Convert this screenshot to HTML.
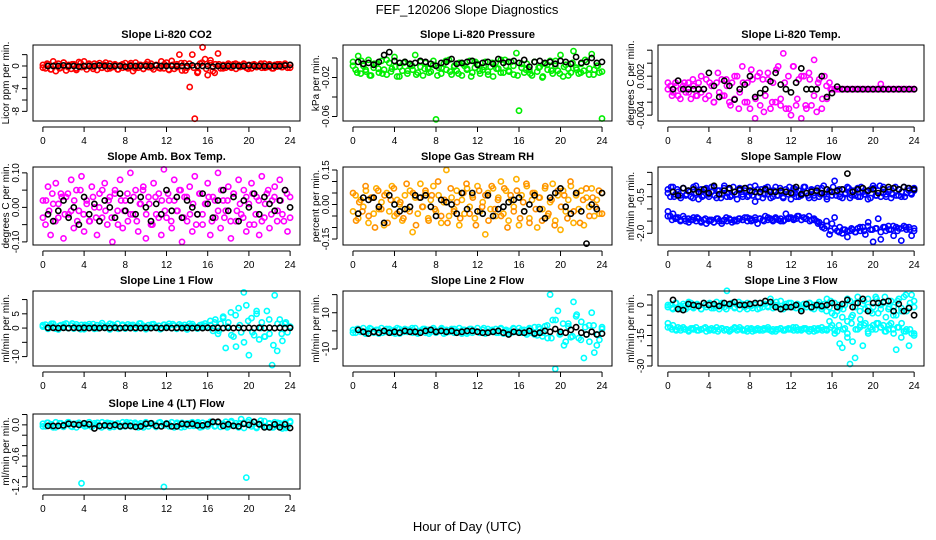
<!DOCTYPE html>
<html><head><meta charset="utf-8"><title>FEF_120206 Slope Diagnostics</title>
<style>
html,body{margin:0;padding:0;background:#fff;}
svg{display:block;font-family:"Liberation Sans",Arial,sans-serif;}
</style></head>
<body>
<svg id="chart" width="936" height="540" viewBox="0 0 936 540" xmlns="http://www.w3.org/2000/svg">
<rect x="0" y="0" width="936" height="540" fill="#fff"/>
<text x="467" y="14" font-size="13" text-anchor="middle">FEF_120206  Slope Diagnostics</text>
<text x="467" y="531" font-size="13" text-anchor="middle">Hour of Day (UTC)</text>
<g id="panels"></g>
</svg>
<script>
const xTicks = [0,4,8,12,16,20,24];

const co2Color = [0.2,-0.4,0.3,-0.6,0.8,-0.9,0.4,-0.3,0.6,-0.8,0.2,-0.5,0.3,-0.4,0.7,-0.2,0.8,-0.6,0.3,-0.1,0.4,-0.7,0.5,-0.3,0.2,-0.5,0.4,-0.2,0.3,-0.6,0.1,-0.3,0.5,-0.4,0.2,-0.9,0.6,-0.3,0.2,-0.5,0.3,-0.2,0.4,-0.6,0.2,-0.3,0.8,-0.4,0.6,-0.7,0.9,-0.5,0.3,2.0,-0.8,0.5,-0.3,-3.7,2.0,-9.3,-1.2,0.4,3.3,1.2,-1.6,0.5,-0.9,0.3,2.2,-0.4,0.2,-0.3,0.4,-0.2,0.3,-0.5,0.2,-0.1,0.4,-0.3,0.2,-0.4,0.3,-0.2,0.1,-0.3,0.4,-0.2,0.3,-0.4,0.2,-0.1,0.3,-0.2,0.4,-0.3,0.2];
const co2Color2 = [-0.3,0.4,-0.6,0.2,-0.4,0.6,-0.2,0.3,-0.7,0.5,-0.1,0.4,-0.5,0.2,-0.3,0.6,-0.4,0.1,-0.6,0.3,-0.2,0.5,-0.4,0.2,-0.5,0.7,-0.3,0.1,-0.4,0.3,-0.6,0.2,-0.2,0.5,-0.8,0.4,-0.3,-1.0,0.6,-0.5,1.0,-1.2,0.3,-0.4,0.2,-0.3,0.4,-0.2,0.3,-0.5,0.2,-0.1,0.4,-0.3,0.2,-0.4,0.3,-0.2,0.1,-0.3];
const co2Black = [0,0,0,0.1,0,0,-0.1,0,0,0,0.1,0,0,0,0,-0.1,0,0,0,0,0,0.1,0,0,0,0,0,0,0.1,0,0,0,-0.1,0,0,0,0,0,0,0.1,0,0,0,0,0,0,0.1,0.2];

const presColor = [-0.004,-0.012,0.002,-0.016,-0.008,-0.014,-0.002,-0.018,-0.010,-0.006,-0.015,-0.003,-0.012,-0.017,-0.005,-0.011,0.001,-0.019,-0.009,-0.013,-0.004,-0.016,-0.007,-0.012,0.003,-0.015,-0.009,-0.018,-0.005,-0.011,-0.014,-0.003,-0.063,-0.010,-0.016,-0.006,-0.012,-0.002,-0.017,-0.009,-0.013,-0.005,-0.018,-0.008,-0.011,-0.003,-0.015,-0.010,-0.006,-0.016,-0.012,-0.004,-0.014,-0.009,-0.019,-0.005,-0.011,-0.002,-0.015,-0.008,-0.013,-0.004,-0.017,0.005,-0.054,-0.010,-0.015,-0.006,-0.012,-0.018,-0.004,-0.014,-0.009,-0.020,-0.006,-0.012,-0.003,-0.016,-0.008,-0.013,0.003,-0.019,-0.007,-0.011,-0.015,0.007,-0.010,-0.016,-0.006,-0.013,-0.004,-0.017,0.004,-0.012,-0.008,-0.015,-0.062];
const presColor2 = [-0.008,-0.015,-0.003,-0.012,-0.018,-0.006,-0.011,-0.016,-0.002,-0.014,-0.009,-0.019,-0.005,-0.013,-0.008,-0.017,-0.004,-0.011,-0.015,-0.007,-0.018,-0.010,-0.003,-0.014,-0.008,-0.016,-0.006,-0.012,-0.019,-0.004,-0.013,-0.009,-0.017,-0.005,-0.011,-0.015,-0.002,-0.014,-0.008,-0.018,-0.006,-0.012,-0.016,-0.004,-0.010,-0.019,-0.007,-0.013,-0.003,-0.016,-0.009,-0.018,-0.005,-0.012,-0.015,-0.002,-0.011,-0.017,-0.008,-0.014];
const presBlack = [-0.004,-0.006,-0.005,-0.007,-0.004,0.003,0.006,-0.003,-0.005,-0.004,-0.006,-0.005,-0.003,-0.004,-0.006,-0.008,-0.005,-0.004,-0.001,-0.006,-0.005,-0.004,-0.003,-0.007,-0.005,-0.004,-0.006,-0.001,-0.005,-0.004,-0.003,-0.005,-0.002,-0.009,-0.004,-0.003,-0.005,-0.004,-0.006,-0.003,-0.004,-0.006,0.001,-0.005,-0.004,0.000,-0.005,-0.004];

const tempColor = [0,0.0005,-0.0005,0.001,-0.001,0,0.0005,-0.0005,0.001,-0.0015,0.0005,-0.001,0.001,-0.0005,0,0.0015,-0.001,0.0005,-0.002,0.001,-0.0005,0.0015,-0.001,0.0005,-0.002,0.001,-0.0015,0.002,-0.0005,0.0035,-0.002,0.001,-0.003,0.0015,-0.0045,0.002,-0.0025,0.0015,-0.001,0.0025,-0.003,0.001,-0.002,0.0035,-0.0015,0.0055,-0.003,0.002,-0.004,0.0035,-0.0025,0.0015,-0.0045,0.002,-0.003,0.0025,-0.0025,0.0045,-0.0035,0.0015,-0.003,0.002,-0.0015,0.001,0,0,0,0,0,0,0,0,0,0,0,0,0,0,0,0,0,0,0,0.0008,0,0,0,0,0,0,0,0,0,0,0,0,0];
const tempColor2 = [0.001,-0.001,0.0005,-0.0015,0.001,-0.0005,0.0015,-0.001,0.002,-0.0015,0.001,-0.002,0.0025,-0.001,0.0015,-0.0025,0.002,-0.003,0.001,-0.002,0.003,-0.0015,0.0025,-0.0035,0.0015,-0.002,0.003,-0.0025,0.001,-0.003,0.0035,-0.0015,0.002,-0.0025,0.0015,-0.001,0.001,-0.0015,0.0005,0,0,0,0,0,0,0,0,0,0,0,0,0,0,0,0,0,0,0,0,0];
const tempBlack = [0,0.0013,0,0,0,0,0,0.0025,0.0005,-0.0012,0.0013,0.0005,-0.0016,0,0.0007,0.002,-0.0012,-0.0006,0,0.0012,0.0025,0.0007,0,-0.0005,0.001,0.0032,0,0,0,0.002,-0.0012,-0.0006,0.0004,0,0,0,0,0,0,0,0,0,0,0,0,0,0,0];

const boxColor = [0.02,-0.05,0.06,-0.08,0.01,0.07,-0.03,0.04,-0.09,0.03,-0.02,0.08,-0.06,0.05,-0.01,0.09,-0.07,0.02,-0.04,0.06,0.00,-0.08,0.04,-0.03,0.07,-0.05,0.03,-0.10,0.05,-0.01,0.08,-0.06,0.02,-0.04,0.10,-0.02,0.05,-0.07,0.01,0.06,-0.09,0.03,-0.05,0.07,-0.02,0.04,-0.08,0.11,-0.03,0.02,-0.06,0.08,-0.01,0.05,-0.10,0.03,-0.04,0.06,-0.07,0.09,-0.02,0.04,-0.05,0.01,0.07,-0.08,0.03,-0.03,0.10,-0.06,0.02,-0.01,0.06,-0.09,0.04,-0.04,0.08,-0.02,0.05,-0.07,0.01,0.07,-0.05,0.03,-0.08,0.09,-0.03,0.04,-0.06,0.02,0.06,-0.04,0.08,-0.02,0.05,-0.07,0.03];
const boxColor2 = [-0.03,0.02,-0.01,0.04,-0.04,0.01,0.03,-0.02,0.04,-0.01,0.02,-0.04,0.05,-0.02,0.01,-0.04,0.03,-0.03,0.00,0.05,-0.01,0.02,-0.03,0.04,-0.05,0.02,-0.01,0.04,-0.02,0.03,-0.04,0.01,0.05,-0.02,0.01,-0.05,0.03,-0.03,0.02,-0.01,0.04,-0.04,0.02,-0.01,0.05,-0.03,0.03,-0.02,0.01,-0.05,0.04,-0.02,0.01,0.03,-0.04,0.02,-0.01,0.05,-0.03,0.02,-0.04,0.04,-0.01,0.01,-0.03,0.03,-0.05,0.04,-0.02,0.02,-0.04,0.01,0.05,-0.02,0.03,-0.01,0.02,-0.04,0.04,-0.03];
const boxBlack = [-0.02,-0.04,-0.01,0.02,-0.03,0.00,-0.05,0.03,-0.02,0.01,-0.04,0.02,0.00,-0.03,0.04,-0.01,0.02,-0.02,0.03,0.00,-0.04,0.01,-0.02,0.05,-0.01,0.03,-0.03,0.02,0.00,-0.02,0.04,0.01,-0.03,0.02,0.05,-0.01,0.03,-0.04,0.02,0.00,0.04,-0.02,0.03,0.01,-0.01,0.02,0.05,0.00];

const rhColor = [-0.03,0.04,-0.06,0.02,-0.01,0.06,-0.08,0.03,-0.04,0.07,-0.02,0.01,-0.09,0.05,-0.03,0.08,-0.05,0.02,0.00,-0.07,0.04,-0.02,0.06,-0.12,0.03,-0.04,0.09,-0.01,0.05,-0.06,0.02,0.08,-0.03,0.04,-0.08,0.01,0.15,-0.05,0.03,-0.02,0.06,-0.09,0.02,-0.04,0.07,-0.01,0.04,-0.06,0.08,-0.03,0.01,-0.13,0.05,-0.02,0.07,-0.05,0.03,0.10,-0.04,0.06,-0.07,0.02,-0.01,0.11,-0.09,0.04,-0.03,0.08,-0.06,0.02,0.05,-0.10,0.03,-0.02,0.07,-0.05,0.01,0.09,-0.07,0.04,-0.11,0.06,-0.03,0.02,0.08,-0.08,0.04,-0.02,0.06,-0.09,0.03,-0.01,0.07,-0.05,0.02,-0.04,0.05];
const rhColor2 = [0.05,-0.07,0.01,-0.03,0.08,-0.05,0.03,-0.10,0.06,-0.02,0.04,-0.08,0.02,0.07,-0.04,0.01,-0.06,0.09,-0.03,0.05,-0.09,0.03,-0.01,0.06,-0.07,0.04,-0.02,0.10,-0.05,0.02,-0.08,0.07,-0.03,0.01,-0.06,0.05,0.09,-0.04,0.03,-0.09,0.06,-0.01,0.04,-0.07,0.08,-0.02,0.02,-0.05,0.07,-0.10,0.04,-0.03,0.06,-0.06,0.01,0.09,-0.08,0.05,-0.02,0.03,-0.07,0.08,-0.04,0.02,-0.09,0.06,-0.01,0.04,-0.06,0.10,-0.03,0.05,-0.08,0.02,0.07,-0.05,0.03,-0.01,0.06,-0.04];
const rhBlack = [-0.04,0.03,0.02,0.03,-0.01,-0.08,0.04,0.00,-0.03,-0.02,-0.01,0.04,0.03,0.04,-0.01,-0.05,0.02,0.01,0.00,-0.04,0.05,-0.02,0.05,-0.03,-0.04,0.04,-0.05,-0.02,-0.01,0.01,0.02,0.03,-0.03,0.00,0.04,-0.02,-0.06,0.03,0.05,0.07,-0.01,-0.04,0.05,-0.03,-0.17,0.00,-0.02,0.05];

const flowUpper = [-0.2,-0.5,-0.1,-0.4,-0.3,-0.55,-0.15,-0.45,-0.25,-0.5,-0.1,-0.35,-0.6,-0.2,-0.45,-0.15,-0.5,-0.3,-0.1,-0.55,-0.25,-0.4,-0.05,-0.5,-0.2,-0.45,-0.3,-0.6,-0.15,-0.4,-0.25,-0.5,-0.1,-0.45,-0.7,-0.2,-0.35,-0.55,-0.15,-0.4,-0.25,-0.5,-0.1,-0.45,-0.3,-0.55,-0.2,-0.4,-0.6,-0.15,-0.5,-0.25,-0.45,-0.1,-0.35,-0.55,-0.2,-0.45,-0.3,-0.5,-0.15,-0.4,-0.6,-0.25,-0.45,0.15,-0.3,-0.5,-0.2,-0.4,-0.1,-0.55,-0.25,-0.45,-0.15,-0.5,-0.3,-0.4,-0.6,-0.2,-0.05,-0.45,-0.25,-0.5,-0.1,-0.4,-0.3,-0.55,-0.15,-0.45,-0.2,-0.5,-0.1,-0.35,-0.25,-0.4,-0.15];
const flowUpper2 = [-0.35,-0.1,-0.5,-0.2,-0.45,-0.15,-0.4,-0.3,-0.55,-0.05,-0.35,-0.5,-0.2,-0.4,-0.1,-0.45,-0.25,-0.55,-0.15,-0.35,-0.5,-0.1,-0.4,-0.25,-0.5,-0.15,-0.45,-0.3,-0.05,-0.5,-0.2,-0.4,-0.1,-0.55,-0.25,-0.45,-0.15,-0.5,-0.3,-0.1,-0.4,-0.2,-0.5,-0.35,-0.1,-0.45,-0.25,-0.55,-0.15,-0.4,-0.05,-0.5,-0.3,-0.1,-0.45,-0.2,-0.55,-0.35,-0.15,-0.45,-0.25,-0.5,-0.1,-0.4,-0.3,-0.55,-0.15,-0.45,-0.05,-0.35,-0.5,-0.2,-0.4,-0.1,-0.45,-0.3,-0.5,-0.15,-0.35,-0.25];
const flowLower = [-1.1,-1.3,-1.2,-1.4,-1.35,-1.45,-1.3,-1.5,-1.4,-1.45,-1.35,-1.5,-1.4,-1.55,-1.45,-1.6,-1.5,-1.45,-1.55,-1.4,-1.5,-1.6,-1.45,-1.5,-1.4,-1.55,-1.45,-1.5,-1.4,-1.45,-1.35,-1.5,-1.4,-1.45,-1.35,-1.6,-1.4,-1.45,-1.3,-1.45,-1.4,-1.5,-1.35,-1.45,-1.4,-1.5,-1.2,-1.4,-1.35,-1.45,-1.4,-1.3,-1.45,-1.35,-1.4,-1.3,-1.45,-1.4,-1.5,-1.55,-1.65,-1.8,-1.7,-2.05,-1.6,-1.35,-1.9,-1.75,-2.0,-1.85,-2.15,-1.9,-1.85,-1.95,-1.8,-1.9,-1.75,-2.05,-1.7,-1.85,-2.35,-1.8,-1.4,-2.25,-1.75,-1.9,-1.7,-1.85,-2.1,-1.75,-1.8,-2.3,-1.7,-1.85,-1.75,-2.1,-1.8];
const flowLower2 = [-1.3,-1.45,-1.35,-1.5,-1.4,-1.55,-1.45,-1.35,-1.5,-1.4,-1.45,-1.55,-1.4,-1.5,-1.35,-1.45,-1.5,-1.4,-1.45,-1.35,-1.5,-1.45,-1.4,-1.5,-1.35,-1.45,-1.4,-1.5,-1.45,-1.35,-1.4,-1.3,-1.45,-1.4,-1.5,-1.45,-1.6,-1.75,-1.5,-1.9,-1.8,-1.95,-1.85,-1.9,-1.8,-1.95,-1.75,-1.9,-1.55,-1.85,-1.8,-1.95,-1.75,-1.85,-1.7,-1.9,-1.8,-1.75,-1.85,-1.9];
const flowBlack = [-0.3,-0.45,-0.15,-0.25,-0.2,-0.3,-0.2,-0.35,-0.05,-0.4,-0.25,-0.15,-0.3,-0.2,-0.15,-0.25,-0.3,-0.3,-0.2,-0.3,-0.3,-0.25,-0.3,-0.35,-0.1,-0.4,-0.35,-0.3,-0.25,-0.35,-0.2,-0.3,-0.25,-0.2,0.45,-0.3,-0.2,-0.15,-0.25,-0.2,-0.35,-0.2,-0.1,-0.15,-0.2,-0.1,-0.15,-0.2];

const line1Color = [0.5,1.2,-0.3,0.8,1.5,0.2,-0.5,1.0,0.6,1.6,0.0,0.9,-0.2,1.3,0.4,1.1,-0.4,0.7,1.4,0.3,-0.3,1.0,0.5,1.7,0.1,0.8,-0.5,1.2,0.6,1.5,0.0,0.9,-0.2,1.3,0.4,1.1,-0.3,0.7,1.6,0.2,-0.4,1.0,0.5,1.4,0.1,0.8,-0.2,1.2,0.6,1.5,0.0,0.9,-0.3,1.3,0.4,1.1,-0.5,0.7,1.4,0.3,-0.2,1.0,0.5,1.6,0.2,2.5,-1.0,3.0,-2.0,1.5,4.0,-7.0,2.0,5.5,-3.0,-6.5,7.0,-1.5,12.5,8.0,-9.5,3.5,-2.5,5.0,-4.0,2.0,-3.0,6.0,-2.0,-13.0,11.5,-8.0,3.0,-4.5,1.5,-1.5,0.5];
const line1Color2 = [1.0,0.2,1.5,-0.2,0.8,1.3,0.0,1.6,0.5,-0.4,1.1,0.7,1.4,-0.1,0.9,0.3,1.5,0.6,-0.3,1.2,0.4,1.0,-0.2,1.6,0.8,0.1,1.3,0.5,-0.4,1.1,0.7,1.4,0.0,0.9,0.3,1.5,0.6,-0.1,1.2,0.8,1.0,2.0,-1.0,3.5,0.5,-2.5,4.5,1.0,-5.0,2.5,-1.5,6.0,0.0,-3.0,3.0,-6.0,1.5,-2.0,2.0,0.5];
const line1Black = [0.1,0.1,0,0.1,0,0.1,0,0.1,0,0.1,0,0.1,0,0.1,0,0.1,0,0.1,0,0.1,0,0.1,0,0.1,0,0.1,0,0.1,0,0.1,0,0.1,0,0.1,0,0.1,0,0.1,0,0.1,0,0.1,0,0.1,0,0.1,0,0.1];

const line2Color = [0.5,-1,1,-0.5,1.5,-1.5,0,1,-1,0.5,-1.5,1.5,0,-0.5,1,-1,0.5,1.5,-1.5,0,1,-0.5,0.5,-1,1.5,-1.5,0,1,-1,0.5,-0.5,1.5,-1,0,1,-1.5,0.5,-0.5,1,-1,0,1.5,-1.5,0.5,-0.5,1,-1,0,1.5,-1,0.5,-1.5,1,-0.5,0,1,-1,1.5,-1.5,0.5,0,-1,1,-0.5,1.5,-1,0.5,-2,1.5,-1,2,-2.5,1,-3,2.5,-4,20,6,-21,11,-1.5,4,-6,2.5,-3.5,16,8,-4,5,-15,-2,3,10,-12,-8,-5,2];
const line2Color2 = [-1,1,0,-1.5,1.5,-0.5,0.5,-1,1,0,-1.5,1,-0.5,0.5,1.5,-1,0,1,-1.5,0.5,-0.5,1.5,-1,0,1,-0.5,0.5,-1.5,1,0,-1,1.5,-0.5,0.5,-1,1,0,-1.5,1.5,-0.5,0.5,-1,1,-2,2,-1,3,-4,6,-2,-8,4,-3,9,-5,2,-6,3,-2,1];
const line2Black = [0.5,-0.5,-1.5,-0.5,-1,0,-1,-0.5,-1,0,-0.5,-0.5,-1,0,0.5,-0.5,0,-0.5,0,-1,-0.5,0,0,-0.5,-1,-1,-0.5,0,-1,-2,-0.5,-1,-1,0,-1.5,-1,0,-0.5,1,-0.5,-1,0.5,2,-1,-2,-0.5,-2,-1.5];

const line3Upper = [-1,0,-2,1,-1.5,-0.5,0.5,-2,-1,1,-1.5,0,-0.5,-2,1,-1,0.5,-1.5,-0.5,1.5,-2,0,-1,7,-0.5,1,-1.5,0,-2,0.5,-1,1,-0.5,-1.5,0,-2,1,-1,0.5,-0.5,3,-1.5,0,-1,2,-2,0.5,-1,1,-0.5,-1.5,0,-2,0.5,-1,1,-1.5,0,-0.5,1.5,-2,0.5,3,-1,-4,1,-3,-1.5,-6,0,-8,2,-5,-1,4,-7,0.5,-2,3,-3,-1,4,-4,0,1,-6,-2,2,-1,-5,3,-1.5,4,-3,-1,5,2];
const line3Upper2 = [0,-1.5,1,-2,-0.5,1.5,-1,0.5,-2,0,1,-1.5,-0.5,1,-2,0.5,-1,1.5,0,-2,-0.5,1,-1.5,0.5,-1,0,1.5,-2,-0.5,1,-1,0.5,-1.5,0,1,-2,0.5,-1,-3,2,-5,0,-2,3,-6,1,-3,2,-1,-4,3,-2,4,-1,-5,2,-3,5,1,-1];
const line3Lower = [-9,-11,-10,-12,-11,-12.5,-11,-12,-12.5,-11.5,-12,-11,-12.5,-12,-11.5,-13,-12,-11.5,-12.5,-11,-12,-11.5,-12.5,-12,-13,-12,-11.5,-12.5,-11,-12,-12.5,-11.5,-12,-13,-12.5,-11.5,-12,-12.5,-12,-11,-12.5,-12,-13,-12,-11.5,-12.5,-12,-11.5,-12,-12.5,-11,-12,-12.5,-11.5,-12,-13,-12,-11.5,-12.5,-12,-11,-12,-12.5,-8,-10,-12.5,-13,-19,-21,-11.5,-14,-29,-18,-26,-12,-10,-20,-9,-13,-11,-10,-12,-9,-11,-10,-13,-12,-9,-14,-22,-11,-16,-13,-12,-20,-14,-15];
const line3Lower2 = [-11,-12,-12.5,-11.5,-12,-13,-11.5,-12.5,-12,-11,-12.5,-12,-13,-11.5,-12,-12.5,-11,-12,-12.5,-13,-11.5,-12,-12.5,-11.5,-12,-13,-12,-11.5,-12.5,-12,-11,-12.5,-12,-11.5,-12,-13,-11.5,-12.5,-12,-11,-14,-10,-12,-16,-9,-12,-11,-10,-14,-12,-9,-11,-13,-10,-12,-11,-9,-13,-12,-14];
const line3Black = [2.5,-2,-2.5,0.5,0,-0.5,1,0,0.5,-0.5,1,0.5,1.5,0,0,0.5,1,1,2,1.5,-1,-2,-1,-1,0,-3,0.5,-1,0,-0.5,0,1,-1,0.5,2.5,-1,1,3,-3,1,1,1.5,2,-3,0.5,-3,-1.5,-5];

const line4Color = [0.02,-0.03,0.04,0.00,-0.05,0.05,-0.02,0.03,-0.04,0.01,0.05,-0.03,0.02,-0.05,0.04,-1.13,0.01,-0.02,0.05,-0.04,0.03,0.00,-0.03,0.05,-0.02,0.04,-0.05,0.02,-0.01,0.03,-0.04,0.05,-0.03,0.02,0.04,-0.02,0.01,-0.05,0.03,-0.01,0.05,-0.03,0.02,0.00,-0.04,0.04,-0.02,-1.2,0.03,-0.03,0.05,-0.05,0.02,0.00,0.04,-0.04,0.03,-0.02,0.05,-0.01,0.02,-0.05,0.04,0.00,-0.03,0.03,0.05,-0.02,0.04,-0.04,0.02,0.06,-0.03,0.05,-0.01,0.03,-0.05,0.11,0.04,-1.02,0.09,-0.03,0.05,-0.06,0.02,0.00,0.07,-0.04,0.03,-0.05,0.05,-0.02,0.03,-0.07,0.04,-0.03,0.07];
const line4Color2 = [-0.03,0.04,0.01,-0.05,0.03,-0.02,0.05,-0.04,0.02,0.00,-0.03,0.05,-0.01,0.04,-0.05,0.02,0.03,-0.04,0.01,-0.02,0.05,-0.03,0.04,0.00,-0.05,0.02,0.03,-0.04,0.05,-0.01,0.02,-0.03,0.04,-0.05,0.01,0.03,-0.02,0.05,-0.04,0.02,0.06,-0.03,0.04,0.00,-0.05,0.07,-0.02,0.03,-0.06,0.05,0.01,-0.04,0.08,-0.03,0.02,-0.05,0.04,0.00,-0.06,0.05];
const line4Black = [-0.02,-0.02,-0.02,-0.01,0.02,0.01,0.0,0.03,0.01,-0.07,-0.02,-0.01,-0.02,0.0,-0.03,-0.02,-0.02,-0.04,-0.03,0.02,0.03,-0.02,-0.03,0.02,-0.03,-0.03,0.02,0.01,0.02,-0.01,-0.01,0.01,0.06,0.06,-0.02,0.01,-0.02,-0.03,0.02,0.0,0.06,0.01,-0.05,-0.05,0.01,-0.05,0.01,-0.06];

const panels = [
 {name:'co2', title:'Slope Li-820 CO2', ylab:'Licor ppm per min.', col:0,row:0, ymin:-9.7, ymax:3.7, ticks:[2,0,-2,-4,-6,-8], labels:{'0':'0','-4':'-4','-8':'-8'}, series:[[co2Color,'#ff0000'],[co2Color2,'#ff0000'],[co2Black,'#000000']]},
 {name:'pressure', title:'Slope Li-820 Pressure', ylab:'kPa per min.', col:1,row:0, ymin:-0.0646, ymax:0.0133, ticks:[0,-0.02,-0.04,-0.06], labels:{'-0.02':'-0.02','-0.06':'-0.06'}, series:[[presColor,'#00ee00'],[presColor2,'#00ee00'],[presBlack,'#000000']]},
 {name:'temp', title:'Slope Li-820 Temp.', ylab:'degrees C per min.', col:2,row:0, ymin:-0.0049, ymax:0.0068, ticks:[0.006,0.004,0.002,0,-0.002,-0.004], labels:{'0.002':'0.002','-0.004':'-0.004'}, series:[[tempColor,'#ff00ff'],[tempColor2,'#ff00ff'],[tempBlack,'#000000']]},
 {name:'amb-box-temp', title:'Slope Amb. Box Temp.', ylab:'degrees C per min.', col:0,row:1, ymin:-0.109, ymax:0.117, ticks:[0.1,0.05,0,-0.05,-0.1], labels:{'0.1':'0.10','0':'0.00','-0.1':'-0.10'}, series:[[boxColor,'#ff00ff'],[boxColor2,'#ff00ff'],[boxBlack,'#000000']]},
 {name:'gas-stream-rh', title:'Slope Gas Stream RH', ylab:'percent per min.', col:1,row:1, ymin:-0.176, ymax:0.163, ticks:[0.15,0.1,0.05,0,-0.05,-0.1,-0.15], labels:{'0.15':'0.15','0':'0.00','-0.15':'-0.15'}, series:[[rhColor,'#ffb000'],[rhColor2,'#ff9000'],[rhBlack,'#000000']]},
 {name:'sample-flow', title:'Slope Sample Flow', ylab:'ml/min per min.', col:2,row:1, ymin:-2.48, ymax:0.72, ticks:[0.5,0,-0.5,-1,-1.5,-2], labels:{'-0.5':'-0.5','-2':'-2.0'}, series:[[flowUpper,'#0000ff'],[flowUpper2,'#0000ff'],[flowLower,'#0000ff'],[flowLower2,'#0000ff'],[flowBlack,'#000000']]},
 {name:'line-1-flow', title:'Slope Line 1 Flow', ylab:'ml/min per min.', col:0,row:2, ymin:-13.3, ymax:13, ticks:[10,5,0,-5,-10], labels:{'5':'5','0':'0','-10':'-10'}, series:[[line1Color,'#00ffff'],[line1Color2,'#00ffff'],[line1Black,'#000000']]},
 {name:'line-2-flow', title:'Slope Line 2 Flow', ylab:'ml/min per min.', col:1,row:2, ymin:-19.4, ymax:22, ticks:[20,10,0,-10], labels:{'10':'10','-10':'-10'}, series:[[line2Color,'#00ffff'],[line2Color2,'#00ffff'],[line2Black,'#000000']]},
 {name:'line-3-flow', title:'Slope Line 3 Flow', ylab:'ml/min per min.', col:2,row:2, ymin:-30, ymax:6.9, ticks:[5,0,-5,-10,-15,-20,-25,-30], labels:{'0':'0','-15':'-15','-30':'-30'}, series:[[line3Upper,'#00ffff'],[line3Upper2,'#00ffff'],[line3Lower,'#00ffff'],[line3Lower2,'#00ffff'],[line3Black,'#000000']]},
 {name:'line-4-flow', title:'Slope Line 4 (LT) Flow', ylab:'ml/min per min.', col:0,row:3, ymin:-1.24, ymax:0.21, ticks:[0.2,0,-0.2,-0.4,-0.6,-0.8,-1,-1.2], labels:{'0':'0.0','-0.6':'-0.6','-1.2':'-1.2'}, series:[[line4Color,'#00ffff'],[line4Color2,'#00ffff'],[line4Black,'#000000']]}
];

const colBoxes = [[33,300],[343,612],[658,924]];
const rowBoxes = [[45,121],[167,245],[291,366],[414,489]];
const NS = 'http://www.w3.org/2000/svg';
const root = document.getElementById('panels');

function mk(tag, attrs, parent){
  const e = document.createElementNS(NS, tag);
  for (const k in attrs) e.setAttribute(k, attrs[k]);
  parent.appendChild(e);
  return e;
}

panels.forEach(p => {
  const [x0,x1] = colBoxes[p.col];
  const [y0,y1] = rowBoxes[p.row];
  const xs = t => x0 + (t + 0.96) / 25.92 * (x1 - x0);
  const ys = v => y1 - (v - p.ymin) / (p.ymax - p.ymin) * (y1 - y0);
  const g = mk('g', {}, root);
  
  

  const title = mk('text', {x:(x0+x1)/2, y:y0-7, 'font-size':11, 'font-weight':'bold', 'text-anchor':'middle'}, g);
  
  
  title.textContent = p.title;

  const pts = mk('g', {fill:'none', 'stroke-width':1.6}, g);
  
  
  p.series.forEach(([vals, color]) => {
    const isBlack = color === '#000000';
    const n = vals.length;
    vals.forEach((v, i) => {
      const t = isBlack ? 0.5 + i * 23.5 / (n - 1) : i * 24 / (n - 1);
      const c = mk('circle', {cx:xs(t).toFixed(1), cy:ys(v).toFixed(1), r:2.6, stroke:color}, pts);
      
      
    });
  });

  const box = mk('rect', {x:x0, y:y0, width:x1-x0, height:y1-y0, fill:'none', stroke:'#000', 'stroke-width':1}, g);
  
  

  const xa = mk('g', {stroke:'#000', 'stroke-width':1}, g);
  
  
  const ay = y1 + 6;
  mk('line', {x1:xs(xTicks[0]), x2:xs(xTicks[xTicks.length-1]), y1:ay, y2:ay}, xa);
  xTicks.forEach(t => {
    mk('line', {x1:xs(t), x2:xs(t), y1:ay, y2:ay+5}, xa);
    const tl = mk('text', {x:xs(t), y:ay+17, 'font-size':10, 'text-anchor':'middle', stroke:'none', fill:'#000'}, xa);
    
    
    tl.textContent = t;
  });

  const ya = mk('g', {stroke:'#000', 'stroke-width':1}, g);
  
  
  const ax = x0 - 6;
  const tv = p.ticks.map(ys);
  mk('line', {x1:ax, x2:ax, y1:Math.min(...tv), y2:Math.max(...tv)}, ya);
  p.ticks.forEach(v => {
    const yy = ys(v);
    mk('line', {x1:ax-5, x2:ax, y1:yy, y2:yy}, ya);
    const key = String(v);
    if (p.labels[key] !== undefined) {
      const tl = mk('text', {x:ax-8, y:yy, 'font-size':10, 'text-anchor':'middle', stroke:'none', fill:'#000', transform:`rotate(-90 ${ax-8} ${yy})`}, ya);
      
      
      tl.textContent = p.labels[key];
    }
  });
  const yl = mk('text', {x:x0-24, y:(y0+y1)/2, 'font-size':10, 'text-anchor':'middle', transform:`rotate(-90 ${x0-24} ${(y0+y1)/2})`}, g);
  
  
  yl.textContent = p.ylab;
});
</script>
</body></html>
